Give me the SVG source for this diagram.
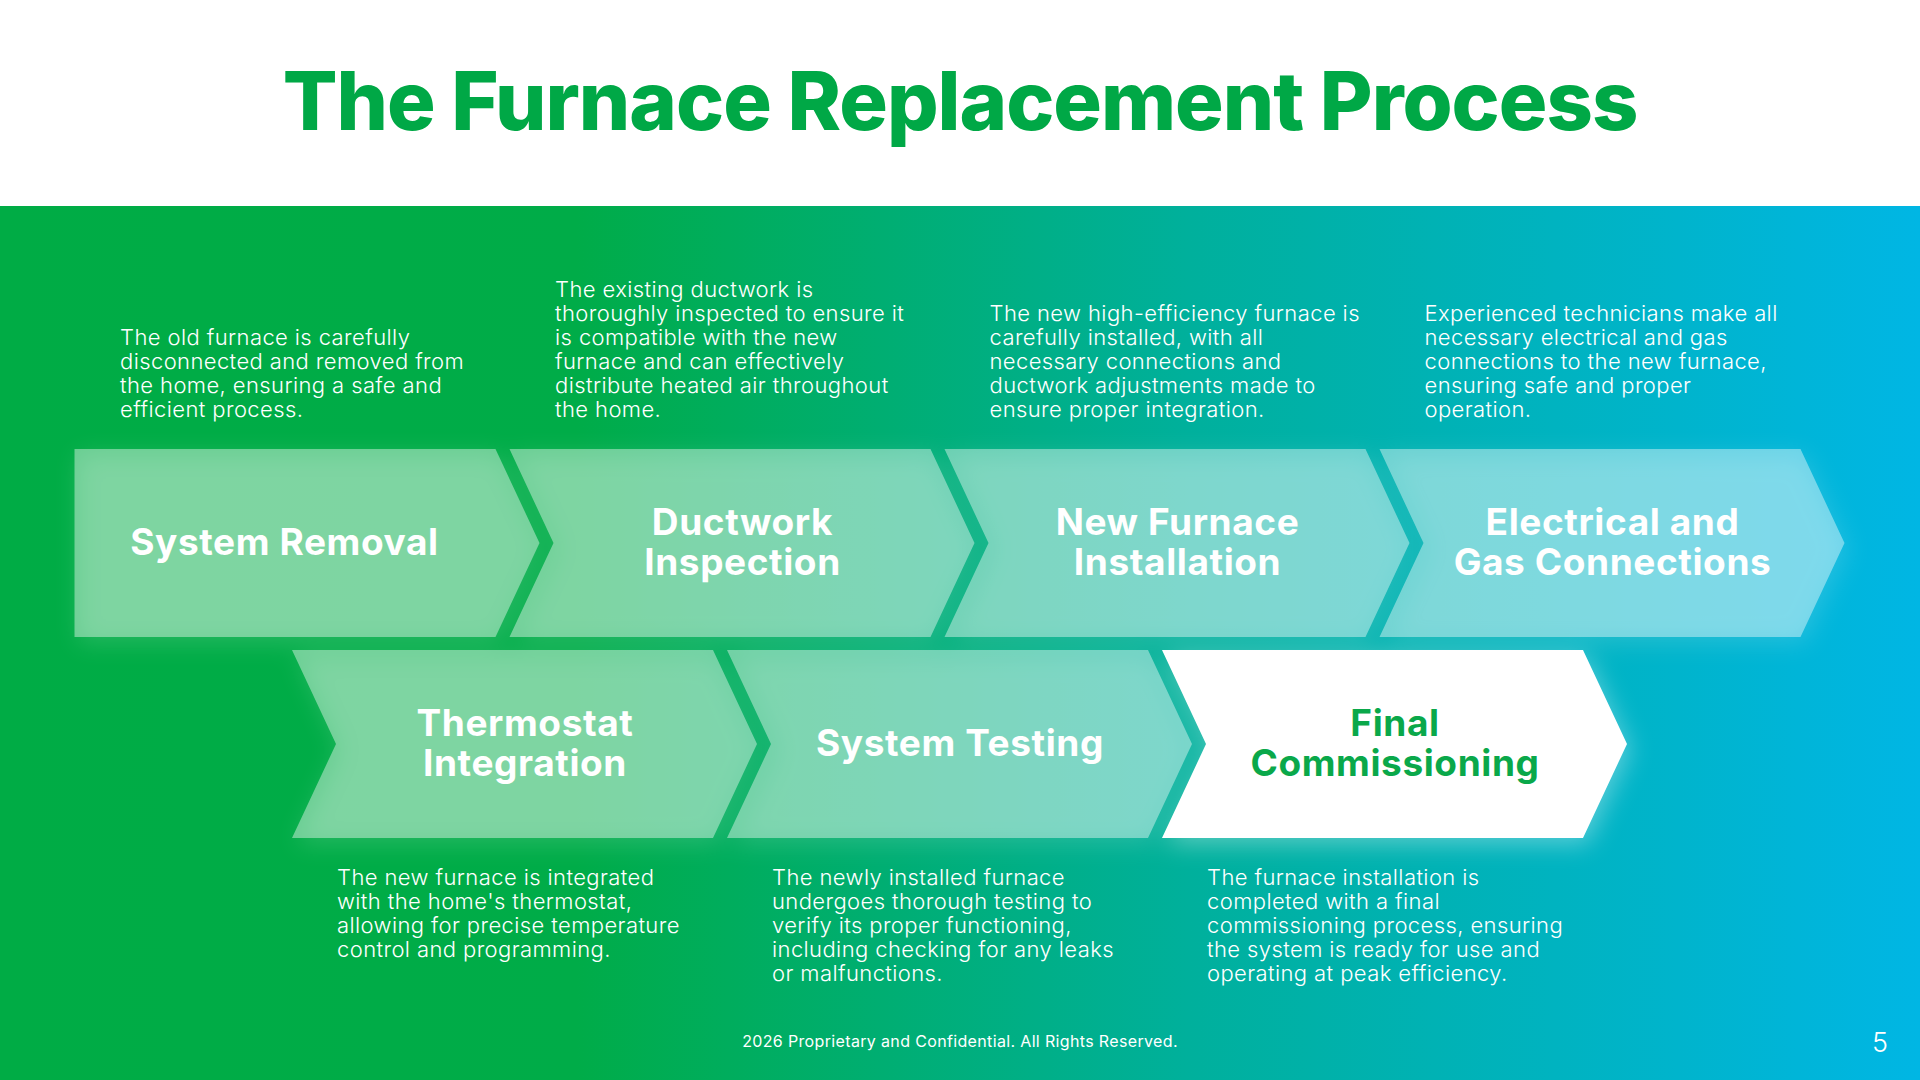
<svg xmlns="http://www.w3.org/2000/svg" xmlns:xlink="http://www.w3.org/1999/xlink" width="1920" height="1080" viewBox="0 0 1920 1080">
<defs>
  <linearGradient id="bg" x1="0" y1="0" x2="1920" y2="0" gradientUnits="userSpaceOnUse">
    <stop offset="0" stop-color="#00AC45"/>
    <stop offset="0.3" stop-color="#00AC48"/>
    <stop offset="0.62" stop-color="#00B09C"/>
    <stop offset="1" stop-color="#00B6E4"/>
  </linearGradient>
  <filter id="blur" x="-10%" y="-30%" width="120%" height="160%">
    <feGaussianBlur stdDeviation="12"/>
  </filter>
  <mask id="outside" maskUnits="userSpaceOnUse" x="0" y="0" width="1920" height="1080">
    <rect x="0" y="0" width="1920" height="1080" fill="#fff"/>
    <use href="#p1" fill="#000"/><use href="#p2" fill="#000"/><use href="#p3" fill="#000"/><use href="#p4" fill="#000"/>
    <use href="#p5" fill="#000"/><use href="#p6" fill="#000"/><use href="#p7" fill="#000"/>
  </mask>
</defs>
<style>
  .title{font-family:Inter,"Noto Sans",sans-serif;font-weight:800;font-size:81px;fill:#00A846;text-anchor:middle;letter-spacing:-1px}
  .lbl{font-family:Inter,"Noto Sans",sans-serif;font-weight:700;font-size:37px;fill:#FFFFFF;text-anchor:middle;letter-spacing:0.6px}
  .lbl-g{fill:#0AA84A}
  .desc{font-family:Inter,"Noto Sans",sans-serif;font-weight:300;font-size:22px;fill:#FFFFFF;letter-spacing:0.4px}
  .chev{fill:#FFFFFF;fill-opacity:0.41}
  .chev-w{fill:#FFFFFF}
  .foot{font-family:Inter,"Noto Sans",sans-serif;font-weight:400;font-size:16px;fill:#FFFFFF;text-anchor:middle;letter-spacing:0.35px}
  .pg{font-family:Inter,"Noto Sans",sans-serif;font-weight:300;font-size:27px;fill:#FFFFFF;text-anchor:middle}
</style>

<rect x="0" y="0" width="1920" height="1080" fill="#FFFFFF"/>
<rect x="0" y="206" width="1920" height="874" fill="url(#bg)"/>

<text class="title" x="960" y="130">The Furnace Replacement Process</text>

<g id="shadows" mask="url(#outside)" opacity="0.35">
  <g filter="url(#blur)" fill="#004a5a" transform="translate(4,6)">
    <use href="#p1"/><use href="#p2"/><use href="#p3"/><use href="#p4"/>
    <use href="#p5"/><use href="#p6"/><use href="#p7"/>
  </g>
</g>

<g id="connectors"></g>

<g id="step1">
  <path id="p1" class="chev" d="M74.5,449 H495.5 L539.5,543 L495.5,637 H74.5 Z"/>
  <text class="lbl" x="284.5" y="555">System Removal</text>
  <text class="desc" x="120">
    <tspan x="120" y="345">The old furnace is carefully</tspan>
    <tspan x="120" y="369">disconnected and removed from</tspan>
    <tspan x="120" y="393">the home, ensuring a safe and</tspan>
    <tspan x="120" y="417">efficient process.</tspan>
  </text>
</g>

<g id="step2">
  <path id="p2" class="chev" d="M509.5,449 H930.5 L974.5,543 L930.5,637 H509.5 L553.5,543 Z"/>
  <text class="lbl"><tspan x="742.5" y="535">Ductwork</tspan><tspan x="742.5" y="575">Inspection</tspan></text>
  <text class="desc">
    <tspan x="555" y="297">The existing ductwork is</tspan>
    <tspan x="555" y="321">thoroughly inspected to ensure it</tspan>
    <tspan x="555" y="345">is compatible with the new</tspan>
    <tspan x="555" y="369">furnace and can effectively</tspan>
    <tspan x="555" y="393">distribute heated air throughout</tspan>
    <tspan x="555" y="417">the home.</tspan>
  </text>
</g>

<g id="step3">
  <path id="p3" class="chev" d="M944.5,449 H1365.5 L1409.5,543 L1365.5,637 H944.5 L988.5,543 Z"/>
  <text class="lbl"><tspan x="1177.5" y="535">New Furnace</tspan><tspan x="1177.5" y="575">Installation</tspan></text>
  <text class="desc">
    <tspan x="989.5" y="321">The new high-efficiency furnace is</tspan>
    <tspan x="989.5" y="345">carefully installed, with all</tspan>
    <tspan x="989.5" y="369">necessary connections and</tspan>
    <tspan x="989.5" y="393">ductwork adjustments made to</tspan>
    <tspan x="989.5" y="417">ensure proper integration.</tspan>
  </text>
</g>

<g id="step4">
  <path id="p4" class="chev" d="M1379.5,449 H1800.5 L1844.5,543 L1800.5,637 H1379.5 L1423.5,543 Z"/>
  <text class="lbl"><tspan x="1612.5" y="535">Electrical and</tspan><tspan x="1612.5" y="575">Gas Connections</tspan></text>
  <text class="desc">
    <tspan x="1424.5" y="321">Experienced technicians make all</tspan>
    <tspan x="1424.5" y="345">necessary electrical and gas</tspan>
    <tspan x="1424.5" y="369">connections to the new furnace,</tspan>
    <tspan x="1424.5" y="393">ensuring safe and proper</tspan>
    <tspan x="1424.5" y="417">operation.</tspan>
  </text>
</g>

<g id="step5">
  <path id="p5" class="chev" d="M292,650 H713 L757,744 L713,838 H292 L336,744 Z"/>
  <text class="lbl"><tspan x="525" y="736">Thermostat</tspan><tspan x="525" y="776">Integration</tspan></text>
  <text class="desc">
    <tspan x="337" y="885">The new furnace is integrated</tspan>
    <tspan x="337" y="909">with the home's thermostat,</tspan>
    <tspan x="337" y="933">allowing for precise temperature</tspan>
    <tspan x="337" y="957">control and programming.</tspan>
  </text>
</g>

<g id="step6">
  <path id="p6" class="chev" d="M727,650 H1148 L1192,744 L1148,838 H727 L771,744 Z"/>
  <text class="lbl" x="960" y="756">System Testing</text>
  <text class="desc">
    <tspan x="772" y="885">The newly installed furnace</tspan>
    <tspan x="772" y="909">undergoes thorough testing to</tspan>
    <tspan x="772" y="933">verify its proper functioning,</tspan>
    <tspan x="772" y="957">including checking for any leaks</tspan>
    <tspan x="772" y="981">or malfunctions.</tspan>
  </text>
</g>

<g id="step7">
  <path id="p7" class="chev-w" d="M1162,650 H1583 L1627,744 L1583,838 H1162 L1206,744 Z"/>
  <text class="lbl lbl-g"><tspan x="1395" y="736">Final</tspan><tspan x="1395" y="776">Commissioning</tspan></text>
  <text class="desc">
    <tspan x="1207" y="885">The furnace installation is</tspan>
    <tspan x="1207" y="909">completed with a final</tspan>
    <tspan x="1207" y="933">commissioning process, ensuring</tspan>
    <tspan x="1207" y="957">the system is ready for use and</tspan>
    <tspan x="1207" y="981">operating at peak efficiency.</tspan>
  </text>
</g>

<text class="foot" x="960" y="1047">2026 Proprietary and Confidential. All Rights Reserved.</text>
<text class="pg" x="1880" y="1052">5</text>
</svg>
